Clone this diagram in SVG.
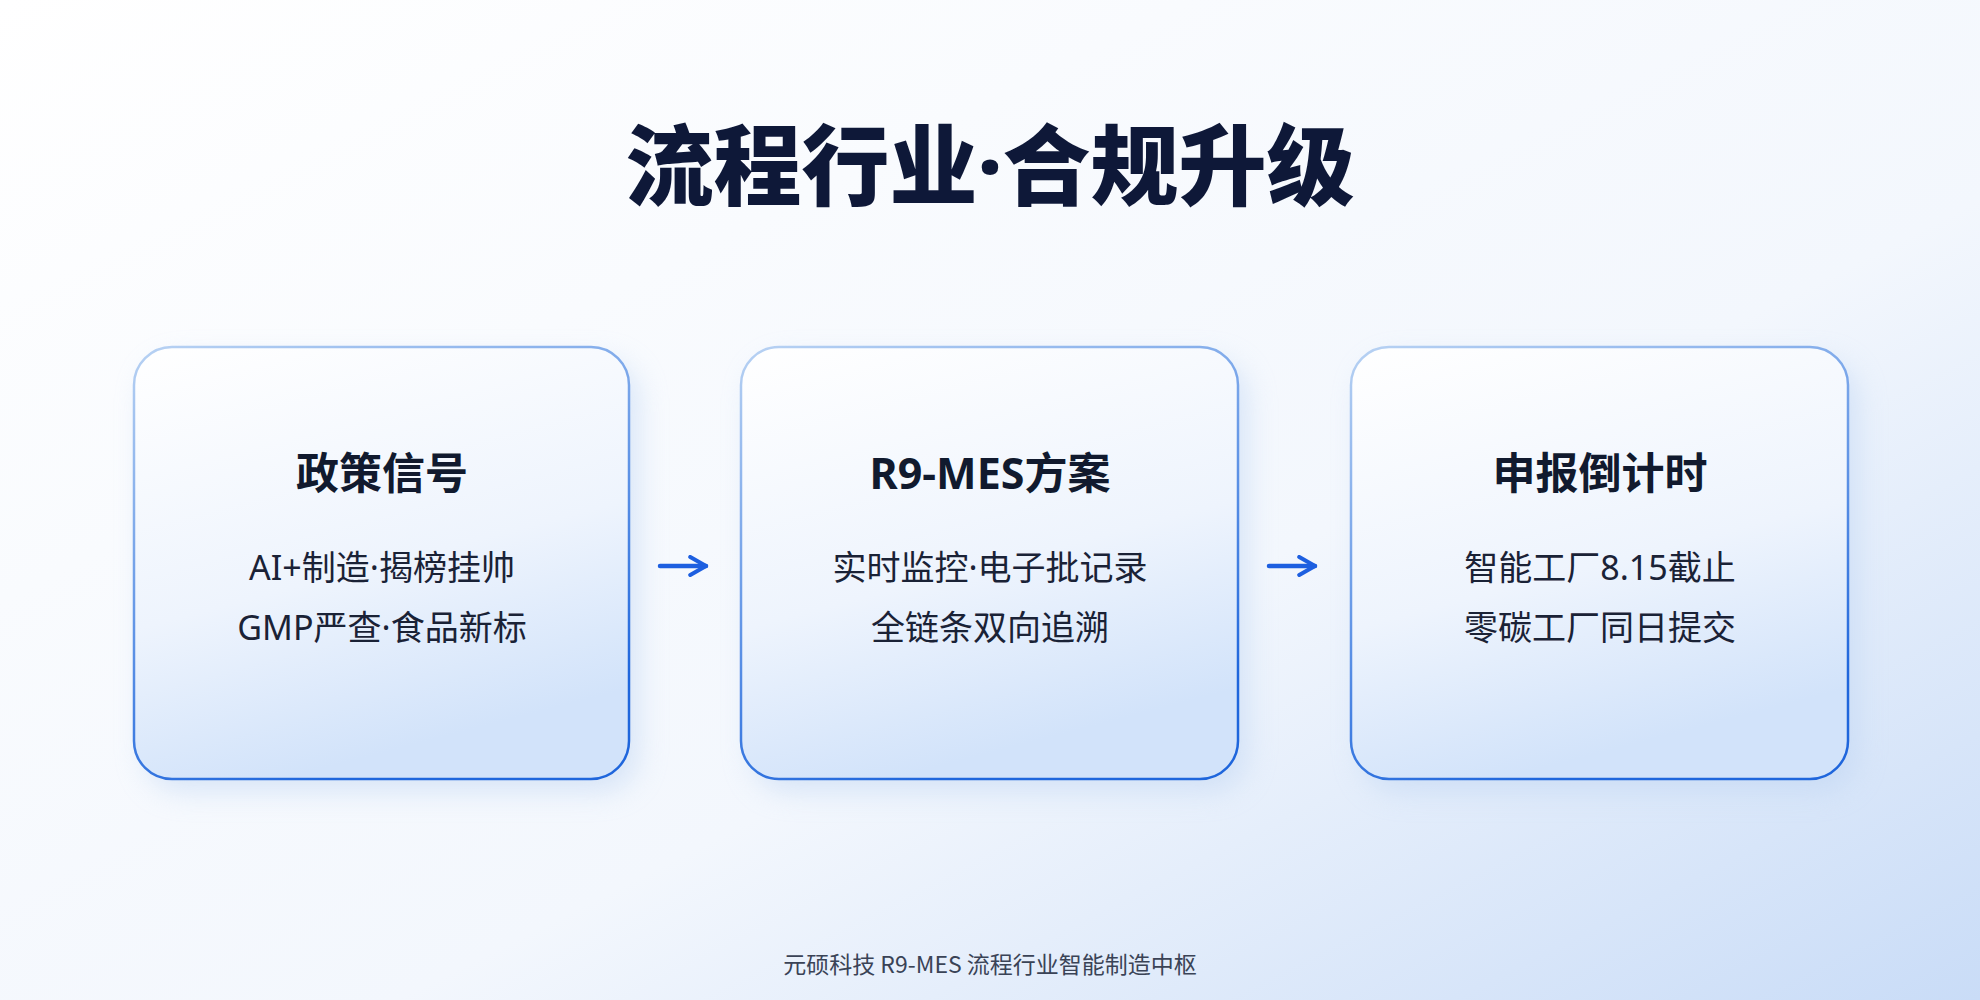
<svg xmlns="http://www.w3.org/2000/svg" width="1980" height="1000" viewBox="0 0 1980 1000">
<defs>
<linearGradient id="bg" x1="0" y1="0" x2="1" y2="1">
<stop offset="0" stop-color="#ffffff"/><stop offset="0.6" stop-color="#f3f7fd"/><stop offset="1" stop-color="#c9dcf7"/>
</linearGradient>
<linearGradient id="card" x1="0" y1="0" x2="0.3" y2="1">
<stop offset="0" stop-color="#ffffff"/><stop offset="0.6" stop-color="#eef4fd"/><stop offset="1" stop-color="#d2e3fa"/>
</linearGradient>
<linearGradient id="stroke" x1="0" y1="0" x2="0.4" y2="1">
<stop offset="0" stop-color="#b8d2f3"/><stop offset="1" stop-color="#1f66dc"/>
</linearGradient>
<filter id="sh" x="-20%" y="-20%" width="140%" height="140%"><feGaussianBlur stdDeviation="14"/></filter>
<marker id="ah" viewBox="0 0 10 10" refX="8" refY="5" markerWidth="5" markerHeight="5" orient="auto"><path d="M1,1 L8,5 L1,9" fill="none" stroke="#1d5fe0" stroke-width="1.8" stroke-linecap="round" stroke-linejoin="round"/></marker>
</defs>
<style>
.card{fill:url(#card);stroke:url(#stroke);stroke-width:2.5}
.h{font-family:"Noto Sans","Noto Sans CJK SC",sans-serif;font-weight:700;font-size:43px;fill:#111a2e;text-anchor:middle}
.t{font-family:"Noto Sans","Noto Sans CJK SC",sans-serif;font-size:34px;fill:#1a2236;text-anchor:middle}
.c{stroke:#1d5fe0;stroke-width:4.5;fill:none;stroke-linecap:round}
</style>
<rect width="1980" height="1000" fill="url(#bg)"/>
<text x="990" y="198" font-family="Noto Sans,Noto Sans CJK SC,sans-serif" font-weight="800" font-size="88" fill="#0e1838" text-anchor="middle">流程行业·合规升级</text>
<g id="n1">
<rect x="144" y="360" width="495" height="432" rx="38" fill="#bcd3f2" opacity="0.5" filter="url(#sh)"/>
<rect class="card" x="134" y="347" width="495" height="432" rx="38"/>
<text class="h" x="382" y="489">政策信号</text>
<text class="t" x="382" y="580">AI+制造·揭榜挂帅</text>
<text class="t" x="382" y="640">GMP严查·食品新标</text>
</g>
<g id="n2">
<rect x="751" y="360" width="497" height="432" rx="38" fill="#bcd3f2" opacity="0.5" filter="url(#sh)"/>
<rect class="card" x="741" y="347" width="497" height="432" rx="38"/>
<text class="h" x="990" y="489">R9-MES方案</text>
<text class="t" x="990" y="580">实时监控·电子批记录</text>
<text class="t" x="990" y="640">全链条双向追溯</text>
</g>
<g id="n3">
<rect x="1361" y="360" width="497" height="432" rx="38" fill="#bcd3f2" opacity="0.5" filter="url(#sh)"/>
<rect class="card" x="1351" y="347" width="497" height="432" rx="38"/>
<text class="h" x="1600" y="489">申报倒计时</text>
<text class="t" x="1600" y="580">智能工厂8.15截止</text>
<text class="t" x="1600" y="640">零碳工厂同日提交</text>
</g>
<g id="connectors">
<line class="c" x1="660" y1="566" x2="706" y2="566" marker-end="url(#ah)"/>
<line class="c" x1="1269" y1="566" x2="1315" y2="566" marker-end="url(#ah)"/>
</g>
<text x="990" y="973" font-family="Noto Sans CJK SC,sans-serif" font-size="23" fill="#3a4356" text-anchor="middle">元硕科技 R9-MES 流程行业智能制造中枢</text>
</svg>
